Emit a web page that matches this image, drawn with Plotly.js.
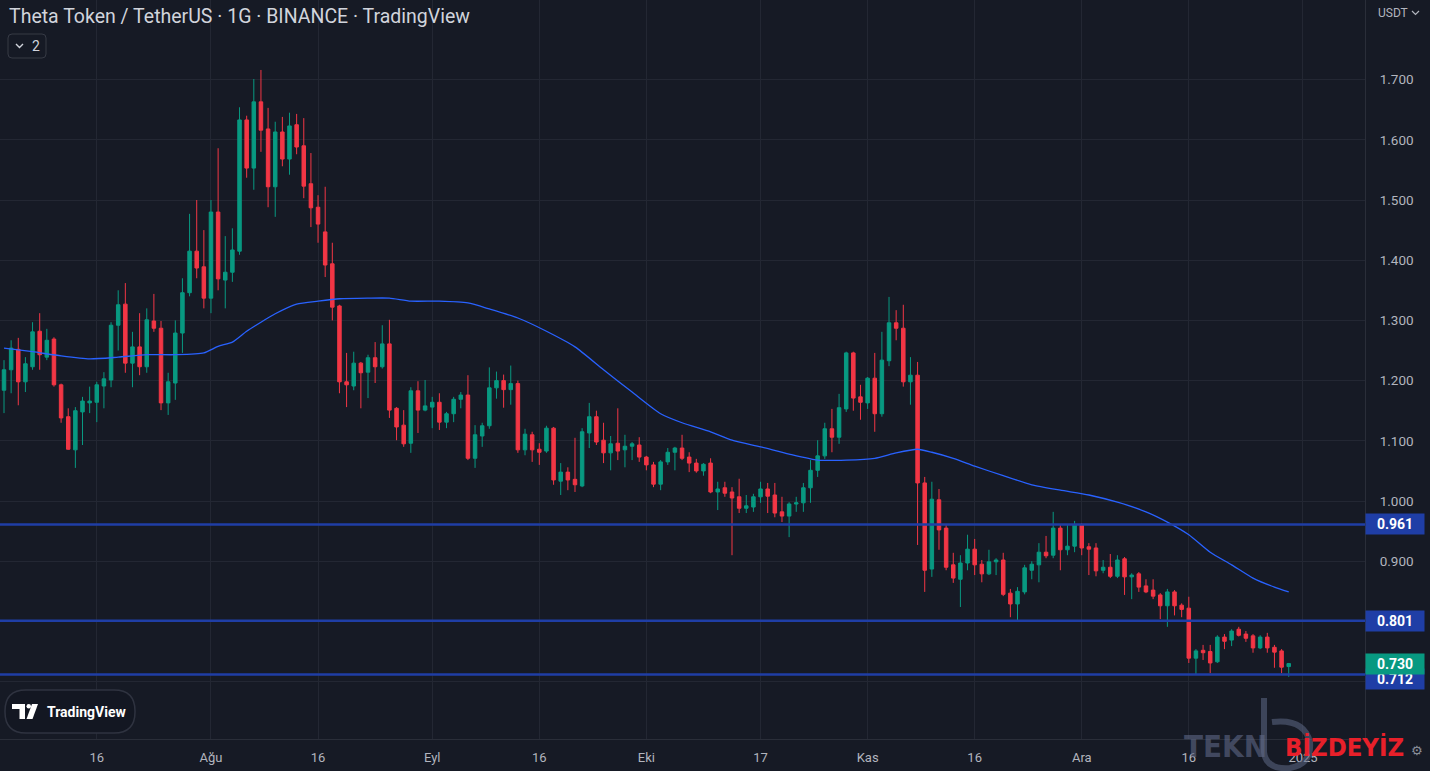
<!DOCTYPE html>
<html><head><meta charset="utf-8">
<script src="https://cdn.plot.ly/plotly-3.0.1.min.js"></script>
<style>html,body{margin:0;padding:0;background:#161a25;overflow:hidden}#chart{width:1430px;height:771px}</style>
</head><body><div id="chart"></div>
<script>
// ---- data (THETA/USDT daily, 2024-07-03 .. 2024-12-30) ----
const firstDay = '2024-07-03';
const opens = [
 1.184,1.218,1.252,1.198,1.223,1.282,1.239,1.269,1.193,1.140,1.085,1.148,1.163,1.164,1.191,1.201,1.292,1.327,1.229,1.256,1.223,1.299,1.287,1.163,1.196,1.279,1.346,1.415,1.389,
 1.337,1.480,1.367,1.380,1.415,1.633,1.553,1.663,1.618,1.522,1.613,1.568,1.625,1.590,1.527,1.488,1.447,1.394,1.324,1.198,1.191,1.229,1.214,1.238,1.223,1.261,1.154,1.126,1.096,1.183,1.151,
 1.156,1.164,1.131,1.145,1.169,1.176,1.071,1.108,1.125,1.188,1.200,1.185,1.195,1.085,1.110,1.086,1.083,1.121,1.033,1.048,1.036,1.025,1.113,1.140,1.101,1.080,1.096,1.085,1.091,1.093,
 1.073,1.060,1.028,1.065,1.081,1.088,1.073,1.063,1.050,1.063,1.015,1.022,1.015,1.007,0.988,0.990,1.007,1.020,1.010,0.982,0.975,0.995,0.997,1.022,1.051,1.075,1.120,1.106,1.153,1.246,1.173,
 1.163,1.204,1.145,1.233,1.296,1.287,1.198,1.209,1.030,0.887,1.002,0.955,0.894,0.870,0.897,0.920,0.895,0.879,0.899,0.902,0.847,0.829,0.849,0.885,0.894,0.915,0.910,0.955,0.919,0.925,
 0.960,0.924,0.922,0.885,0.890,0.875,0.904,0.874,0.879,0.859,0.852,0.844,0.826,0.849,0.827,0.822,0.739,0.752,0.750,0.733,0.774,0.769,0.787,0.779,0.776,0.756,0.774,0.757,0.751,0.725
];
const highs = [
 1.234,1.267,1.271,1.239,1.297,1.312,1.286,1.272,1.195,1.154,1.156,1.173,1.190,1.198,1.214,1.297,1.350,1.362,1.281,1.312,1.320,1.344,1.299,1.213,1.300,1.370,1.477,1.500,1.450,
 1.500,1.586,1.440,1.453,1.654,1.640,1.701,1.716,1.653,1.630,1.638,1.645,1.643,1.636,1.578,1.508,1.522,1.429,1.326,1.246,1.248,1.231,1.243,1.264,1.292,1.301,1.156,1.151,1.189,1.199,1.201,
 1.173,1.179,1.148,1.173,1.181,1.209,1.126,1.130,1.222,1.215,1.210,1.225,1.200,1.120,1.115,1.096,1.125,1.123,1.063,1.056,1.105,1.121,1.163,1.150,1.130,1.108,1.154,1.110,1.098,1.106,
 1.075,1.065,1.068,1.088,1.090,1.110,1.081,1.070,1.063,1.071,1.032,1.032,1.023,1.037,1.010,1.012,1.032,1.030,1.030,1.007,0.998,1.007,1.030,1.068,1.101,1.130,1.153,1.178,1.248,1.248,1.193,
 1.206,1.246,1.281,1.339,1.317,1.326,1.239,1.231,1.040,1.032,1.020,0.960,0.914,0.910,0.944,0.937,0.902,0.919,0.905,0.914,0.854,0.857,0.894,0.900,0.930,0.942,0.982,0.960,0.960,0.967,
 0.963,0.930,0.930,0.902,0.912,0.910,0.907,0.880,0.882,0.870,0.870,0.847,0.854,0.852,0.830,0.841,0.754,0.761,0.761,0.777,0.779,0.787,0.791,0.784,0.779,0.777,0.781,0.761,0.754,0.731
];
const lows = [
 1.146,1.179,1.159,1.181,1.218,1.218,1.234,1.190,1.130,1.085,1.055,1.093,1.146,1.131,1.154,1.189,1.250,1.213,1.189,1.209,1.213,1.281,1.151,1.143,1.168,1.246,1.340,1.370,1.320,
 1.312,1.350,1.320,1.364,1.409,1.537,1.517,1.580,1.488,1.472,1.556,1.542,1.576,1.503,1.455,1.429,1.372,1.300,1.179,1.156,1.184,1.154,1.171,1.196,1.220,1.138,1.101,1.090,1.080,1.113,1.149,
 1.121,1.118,1.121,1.131,1.154,1.068,1.055,1.090,1.120,1.170,1.155,1.160,1.080,1.076,1.065,1.060,1.080,1.027,1.010,1.018,1.015,1.023,1.088,1.093,1.063,1.051,1.068,1.056,1.068,1.065,
 1.051,1.023,1.018,1.060,1.051,1.068,1.048,1.047,1.042,1.013,0.985,1.007,0.910,0.980,0.980,0.982,0.997,0.980,0.973,0.965,0.940,0.982,0.982,0.997,1.040,1.070,1.081,1.095,1.148,1.150,1.135,
 1.153,1.115,1.140,1.224,1.267,1.190,1.160,0.927,0.849,0.874,0.919,0.885,0.864,0.824,0.885,0.877,0.865,0.877,0.877,0.842,0.807,0.802,0.845,0.870,0.865,0.905,0.905,0.885,0.910,0.915,
 0.910,0.877,0.875,0.880,0.872,0.872,0.844,0.837,0.849,0.847,0.837,0.804,0.791,0.810,0.807,0.731,0.711,0.736,0.714,0.731,0.754,0.759,0.775,0.766,0.748,0.754,0.748,0.723,0.714,0.708
];
const closes = [
 1.218,1.254,1.198,1.228,1.281,1.243,1.267,1.193,1.138,1.086,1.150,1.166,1.166,1.193,1.203,1.292,1.326,1.229,1.256,1.223,1.301,1.287,1.163,1.198,1.279,1.346,1.415,1.387,1.337,
 1.480,1.369,1.380,1.417,1.633,1.553,1.663,1.616,1.522,1.613,1.568,1.623,1.588,1.523,1.487,1.460,1.392,1.322,1.198,1.193,1.229,1.213,1.238,1.223,1.261,1.151,1.123,1.095,1.183,1.151,1.158,
 1.164,1.131,1.145,1.169,1.176,1.071,1.110,1.125,1.188,1.200,1.185,1.195,1.085,1.111,1.085,1.081,1.121,1.035,1.048,1.035,1.027,1.115,1.140,1.098,1.080,1.095,1.083,1.091,1.095,1.073,
 1.060,1.028,1.065,1.081,1.088,1.071,1.063,1.050,1.061,1.015,1.020,1.013,1.005,0.988,0.992,1.007,1.020,1.008,0.980,0.975,0.995,0.997,1.022,1.051,1.075,1.120,1.106,1.155,1.246,1.171,1.164,
 1.204,1.145,1.234,1.296,1.287,1.198,1.209,1.030,0.885,1.003,0.952,0.890,0.872,0.897,0.920,0.894,0.879,0.899,0.902,0.845,0.829,0.850,0.889,0.895,0.915,0.909,0.955,0.919,0.925,0.960,
 0.922,0.920,0.884,0.890,0.875,0.902,0.874,0.877,0.857,0.849,0.842,0.826,0.849,0.826,0.820,0.739,0.751,0.748,0.731,0.774,0.767,0.784,0.777,0.772,0.756,0.774,0.756,0.749,0.724,0.730
];
// moving average line, read at sample dates
const maDates = ['2024-07-03','2024-07-07','2024-07-11','2024-07-15','2024-07-19','2024-07-23','2024-07-27','2024-07-31','2024-08-02','2024-08-04','2024-08-06','2024-08-08','2024-08-10','2024-08-13','2024-08-16','2024-08-19','2024-08-23','2024-08-26','2024-08-29','2024-09-02','2024-09-06','2024-09-09','2024-09-13','2024-09-17','2024-09-21','2024-09-25','2024-09-29','2024-10-03','2024-10-06','2024-10-10','2024-10-13','2024-10-17','2024-10-21','2024-10-25','2024-10-29','2024-11-02','2024-11-05','2024-11-08','2024-11-10','2024-11-13','2024-11-16','2024-11-20','2024-11-24','2024-11-28','2024-12-02','2024-12-06','2024-12-10','2024-12-13','2024-12-16','2024-12-19','2024-12-22','2024-12-25','2024-12-28','2024-12-30'];
const maValues = [1.254,1.248,1.241,1.236,1.239,1.243,1.243,1.246,1.257,1.264,1.282,1.297,1.311,1.327,1.332,1.336,1.337,1.337,1.332,1.332,1.329,1.319,1.304,1.282,1.256,1.218,1.181,1.145,1.130,1.115,1.101,1.090,1.078,1.068,1.068,1.071,1.080,1.086,1.081,1.071,1.058,1.042,1.027,1.018,1.010,0.998,0.982,0.965,0.944,0.915,0.894,0.872,0.857,0.849];
const levelLines = [0.961, 0.801, 0.712];
const lastPrice = 0.730;
const xTickDates = ['2024-07-16','2024-08-01','2024-08-16','2024-09-01','2024-09-16','2024-10-01','2024-10-17','2024-11-01','2024-11-16','2024-12-01','2024-12-16','2025-01-01'];
const xTickLabels = ['16','Ağu','16','Eyl','16','Eki','17','Kas','16','Ara','16','2025'];
const yTicks = [0.7,0.8,0.9,1.0,1.1,1.2,1.3,1.4,1.5,1.6,1.7];
const titleText = 'Theta Token / TetherUS · 1G · BINANCE · TradingView';

// ---- dates for the daily candles ----
const dates = [];
{
  const d0 = new Date(firstDay + 'T00:00:00Z');
  for (let i = 0; i < closes.length; i++) {
    const d = new Date(d0.getTime() + i * 86400000);
    dates.push(d.toISOString().slice(0, 10));
  }
}

// ---- geometry helpers (plot area 1365 x 739 px) ----
const W = 1365, H = 739;
const px = x => x / W;
const py = y => 1 - y / H;
function rrect(x0, y0, x1, y1, r) {
  return `M${px(x0+r)},${py(y0)} L${px(x1-r)},${py(y0)} Q${px(x1)},${py(y0)} ${px(x1)},${py(y0+r)} ` +
         `L${px(x1)},${py(y1-r)} Q${px(x1)},${py(y1)} ${px(x1-r)},${py(y1)} L${px(x0+r)},${py(y1)} ` +
         `Q${px(x0)},${py(y1)} ${px(x0)},${py(y1-r)} L${px(x0)},${py(y0+r)} Q${px(x0)},${py(y0)} ${px(x0+r)},${py(y0)} Z`;
}
function poly(pts) {
  return 'M' + pts.map(p => `${px(p[0])},${py(p[1])}`).join(' L') + ' Z';
}
function polyline(pts) {
  return 'M' + pts.map(p => `${px(p[0])},${py(p[1])}`).join(' L');
}

const BG = '#161a25', GRID = '#232733', AXIS = '#b2b5be', LINEBLUE = '#1f3ea6';
const FONT = 'Roboto, "Noto Sans", sans-serif';

const traces = [
  {
    type: 'candlestick', x: dates, open: opens, high: highs, low: lows, close: closes,
    increasing: { line: { color: '#089981', width: 1 }, fillcolor: '#089981' },
    decreasing: { line: { color: '#f23645', width: 1 }, fillcolor: '#f23645' },
    whiskerwidth: 0, hoverinfo: 'skip', showlegend: false
  },
  {
    type: 'scatter', mode: 'lines', x: maDates, y: maValues,
    line: { color: '#2962ff', width: 1.3, shape: 'spline', smoothing: 0.6 },
    hoverinfo: 'skip', showlegend: false
  }
];

const shapes = levelLines.map(v => ({
  type: 'line', xref: 'paper', x0: 0, x1: 1, yref: 'y', y0: v, y1: v,
  line: { color: LINEBLUE, width: 2.5 }, layer: 'above'
}));
// "v 2" indicator box
shapes.push({ type: 'path', xref: 'paper', yref: 'paper', path: rrect(8, 34, 46, 58, 4), line: { color: '#363a45', width: 1 }, fillcolor: 'rgba(0,0,0,0)' });
shapes.push({ type: 'path', xref: 'paper', yref: 'paper', path: polyline([[16, 44], [19.5, 47.5], [23, 44]]), line: { color: '#d1d4dc', width: 1.4 } });
// USDT chevron
shapes.push({ type: 'path', xref: 'paper', yref: 'paper', path: polyline([[1412, 11], [1415.5, 14.5], [1419, 11]]), line: { color: AXIS, width: 1.2 } });
// TradingView pill logo
shapes.push({ type: 'path', xref: 'paper', yref: 'paper', path: rrect(5, 690, 135, 733, 21), line: { color: '#2f3340', width: 1.5 }, fillcolor: '#131722' });
shapes.push({ type: 'path', xref: 'paper', yref: 'paper', path: poly([[12, 704], [25, 704], [25, 719], [19.5, 719], [19.5, 709], [12, 709]]), line: { width: 0 }, fillcolor: '#ffffff' });
shapes.push({ type: 'circle', xref: 'paper', yref: 'paper', x0: px(26.5), x1: px(31), y0: py(704), y1: py(708.5), line: { width: 0 }, fillcolor: '#ffffff' });
shapes.push({ type: 'path', xref: 'paper', yref: 'paper', path: poly([[32, 704], [38, 704], [32.5, 719], [26.5, 719]]), line: { width: 0 }, fillcolor: '#ffffff' });
// watermark logo stroke
shapes.push({ type: 'path', xref: 'paper', yref: 'paper',
  path: `M${px(1264)},${py(698)} L${px(1264)},${py(752)} Q${px(1266)},${py(770)} ${px(1290)},${py(768)} Q${px(1312)},${py(764)} ${px(1310)},${py(742)} Q${px(1304)},${py(718)} ${px(1272)},${py(722)}`,
  line: { color: 'rgba(95,105,135,0.55)', width: 6 } });

const annotations = [
  { xref: 'paper', yref: 'paper', x: px(7), y: py(17), xanchor: 'left', yanchor: 'middle', text: titleText, showarrow: false,
    font: { family: FONT, size: 19.5, color: '#d1d4dc' } },
  { xref: 'paper', yref: 'paper', x: px(36), y: py(46), xanchor: 'center', yanchor: 'middle', text: '2', showarrow: false,
    font: { family: FONT, size: 14, color: '#d1d4dc' } },
  { xref: 'paper', yref: 'paper', x: px(1376), y: py(13), xanchor: 'left', yanchor: 'middle', text: 'USDT', showarrow: false,
    font: { family: FONT, size: 12, color: AXIS } },
  { xref: 'paper', yref: 'paper', x: px(45), y: py(712), xanchor: 'left', yanchor: 'middle', text: '<b>TradingView</b>', showarrow: false,
    font: { family: FONT, size: 14, color: '#ffffff' } },
  { xref: 'paper', yref: 'paper', x: px(1182), y: py(746), xanchor: 'left', yanchor: 'middle', text: '<b>TEKN</b>', showarrow: false,
    font: { family: '"DejaVu Sans Condensed", "DejaVu Sans", sans-serif', size: 31, color: 'rgba(95,105,135,0.6)' } },
  { xref: 'paper', yref: 'paper', x: px(1283), y: py(747), xanchor: 'left', yanchor: 'middle', text: '<b>BİZDEYİZ</b>', showarrow: false,
    font: { family: '"DejaVu Sans Condensed", "DejaVu Sans", sans-serif', size: 25.5, color: '#e8202a' } },
  { xref: 'paper', yref: 'paper', x: px(1417), y: py(750), xanchor: 'center', yanchor: 'middle', text: '⚙', showarrow: false,
    font: { family: '"DejaVu Sans", sans-serif', size: 13, color: '#8a8e99' } }
];
// price labels on the right scale
const boxes = [
  { v: levelLines[0], bg: LINEBLUE, shift: 0 },
  { v: levelLines[1], bg: LINEBLUE, shift: 0 },
  { v: levelLines[2], bg: LINEBLUE, shift: -5 },
  { v: lastPrice, bg: '#089981', shift: 0 }
];
boxes.forEach(b => annotations.push({
  xref: 'paper', yref: 'y', x: 1, y: b.v, xanchor: 'left', yanchor: 'middle', yshift: b.shift,
  text: '<b>' + b.v.toFixed(3) + '</b>', showarrow: false, bgcolor: b.bg, width: 54, height: 16, borderpad: 2,
  font: { family: FONT, size: 14, color: '#ffffff' }
}));

const layout = {
  width: 1430, height: 771,
  paper_bgcolor: BG, plot_bgcolor: BG,
  margin: { l: 0, r: 65, t: 0, b: 32, pad: 0 },
  showlegend: false, hovermode: false, dragmode: false,
  xaxis: {
    type: 'date', range: ['2024-07-02 10:33', '2025-01-09 16:30'],
    tickmode: 'array', tickvals: xTickDates, ticktext: xTickLabels,
    showgrid: true, gridcolor: GRID, gridwidth: 1, zeroline: false,
    showline: true, linecolor: '#2a2e39', linewidth: 1, ticks: '',
    ticklabelstandoff: 6,
    tickfont: { family: FONT, size: 13, color: AXIS },
    rangeslider: { visible: false }, fixedrange: true
  },
  yaxis: {
    side: 'right', range: [0.6047, 1.8322],
    tickmode: 'array', tickvals: yTicks, ticktext: yTicks.map(v => v.toFixed(3)),
    showgrid: true, gridcolor: GRID, gridwidth: 1, zeroline: false,
    showline: true, linecolor: '#2a2e39', linewidth: 1, ticks: '',
    ticklabelstandoff: 11,
    tickfont: { family: FONT, size: 13.5, color: AXIS },
    fixedrange: true
  },
  shapes: shapes,
  annotations: annotations
};

Plotly.newPlot('chart', traces, layout, { displayModeBar: false, staticPlot: true });
</script>
</body></html>
